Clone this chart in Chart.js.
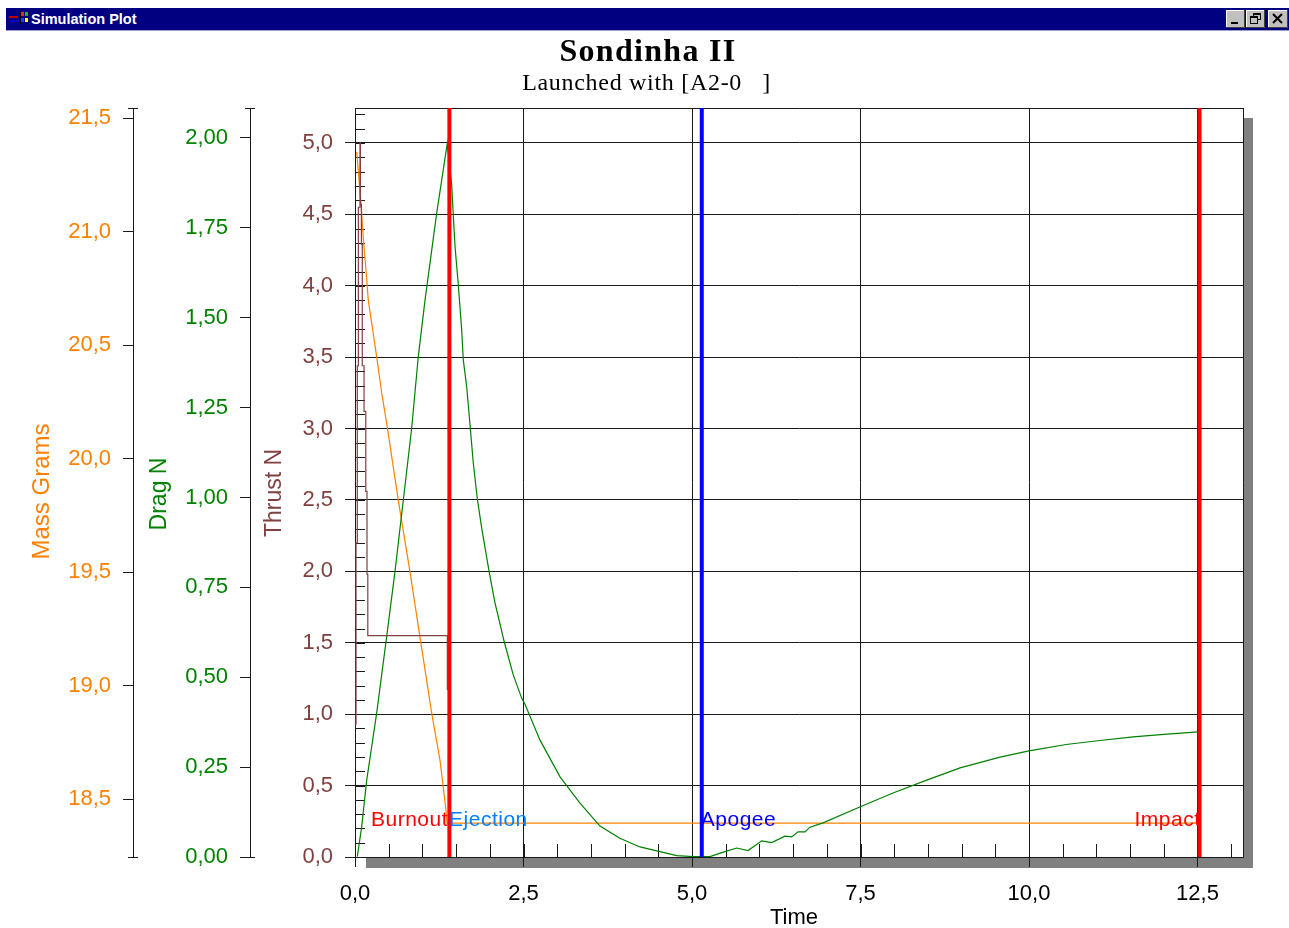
<!DOCTYPE html>
<html>
<head>
<meta charset="utf-8">
<title>Simulation Plot</title>
<style>
html,body{margin:0;padding:0;background:#fff;overflow:hidden}
#wrap{position:relative;width:1289px;height:928px}
canvas{position:absolute;left:0;top:0}
#bar{position:absolute;left:6px;top:8px;width:1283px;height:22px;background:#000080;border-bottom:1px solid #a0a0c8;color:#fff;font:bold 14.5px "Liberation Sans",sans-serif;line-height:22px}
#bar span{position:absolute;left:25px;top:0}
#bar svg{position:absolute}
</style>
<script src="https://cdn.jsdelivr.net/npm/chart.js@4/dist/chart.umd.min.js"></script>
</head>
<body>
<div id="wrap">
<canvas id="c" width="1289" height="928"></canvas>
<div id="bar">
<svg style="left:2px;top:3px" width="20" height="16"><rect x="1" y="5" width="9" height="2" fill="#c00000"/><rect x="2" y="9" width="9" height="2" fill="#0000c0"/><rect x="13" y="1" width="3" height="4" fill="#ff2020"/><rect x="17" y="1" width="3" height="4" fill="#10c010"/><rect x="13" y="7" width="3" height="4" fill="#2040ff"/><rect x="17" y="7" width="3" height="4" fill="#ffff00"/><rect x="12" y="0" width="1" height="13" fill="#000"/></svg>
<svg style="left:1220px;top:2px" width="19" height="18"><rect width="19" height="18" fill="#c0c0c0"/><path d="M0.5 17V0.5H18" stroke="#fff" fill="none"/><path d="M18.5 0V17.5H0" stroke="#404040" fill="none"/><rect x="5" y="12" width="7" height="2" fill="#000"/></svg>
<svg style="left:1240px;top:2px" width="19" height="18"><rect width="19" height="18" fill="#c0c0c0"/><path d="M0.5 17V0.5H18" stroke="#fff" fill="none"/><path d="M18.5 0V17.5H0" stroke="#404040" fill="none"/><rect x="7.5" y="3.5" width="7" height="6" fill="none" stroke="#000"/><rect x="4.5" y="6.5" width="7" height="7" fill="#c0c0c0" stroke="#000"/><rect x="4" y="6" width="8" height="2" fill="#000"/><rect x="7" y="3" width="8" height="2" fill="#000"/></svg>
<svg style="left:1262px;top:2px" width="20" height="18"><rect width="20" height="18" fill="#c0c0c0"/><path d="M0.5 17V0.5H19" stroke="#fff" fill="none"/><path d="M19.5 0V17.5H0" stroke="#404040" fill="none"/><path d="M5 4L14 13M14 4L5 13" stroke="#000" stroke-width="2"/></svg>
<span>Simulation Plot</span>
</div>
</div>
<script>
const titleText = 'Sondinha II';
const subtitleText = 'Launched with [A2-0   ]';
const timeTicks = [0, 2.5, 5, 7.5, 10, 12.5];
const thrustTicks = [0, 0.5, 1, 1.5, 2, 2.5, 3, 3.5, 4, 4.5, 5];
const dragTicks = [0, 0.25, 0.5, 0.75, 1, 1.25, 1.5, 1.75, 2];
const massTicks = [18.5, 19, 19.5, 20, 20.5, 21, 21.5];

const thrustTime = [0, 0.015, 0.015, 0.034, 0.034, 0.05, 0.05, 0.074, 0.074, 0.08, 0.08, 0.095, 0.095, 0.108, 0.108, 0.134, 0.134, 0.16, 0.16, 0.178, 0.178, 0.19, 0.19, 1.37, 1.37];
const thrustValues = [0.93, 0.93, 2.2, 2.2, 3.44, 3.44, 4.55, 4.55, 5.0, 5.0, 4.57, 4.57, 4.29, 4.29, 3.44, 3.44, 3.12, 3.12, 2.56, 2.56, 1.98, 1.98, 1.55, 1.55, 1.17];

const massTime = [0.025, 0.089, 0.123, 0.159, 0.197, 0.322, 0.396, 0.47, 0.642, 0.816, 0.964, 1.138, 1.261, 1.35, 1.365, 12.5];
const massValues = [21.352, 21.126, 20.97, 20.844, 20.698, 20.448, 20.289, 20.156, 19.817, 19.501, 19.214, 18.879, 18.672, 18.452, 18.394, 18.394];

const dragTime = [0.034, 0.099, 0.174, 0.322, 0.47, 0.593, 0.717, 0.841, 0.939, 1.039, 1.212, 1.369, 1.435, 1.458, 1.484, 1.533, 1.583, 1.607, 1.657, 1.696, 1.755, 1.815, 1.88, 1.988, 2.077, 2.215, 2.349, 2.473, 2.522, 2.745, 3.042, 3.338, 3.635, 3.93, 4.228, 4.525, 4.773, 5.015, 5.267, 5.441, 5.663, 5.831, 6.034, 6.182, 6.38, 6.479, 6.573, 6.677, 6.751, 6.944, 7.463, 7.982, 8.482, 8.976, 9.57, 10.0, 10.55, 11.053, 11.543, 12.047, 12.507];
const dragValues = [0.001, 0.084, 0.214, 0.401, 0.613, 0.794, 0.993, 1.193, 1.392, 1.549, 1.791, 1.985, 1.869, 1.786, 1.698, 1.591, 1.466, 1.382, 1.308, 1.225, 1.096, 0.996, 0.915, 0.796, 0.707, 0.598, 0.506, 0.442, 0.425, 0.325, 0.223, 0.15, 0.086, 0.052, 0.028, 0.015, 0.004, 0.001, 0.001, 0.012, 0.025, 0.018, 0.045, 0.04, 0.058, 0.056, 0.07, 0.07, 0.083, 0.095, 0.137, 0.178, 0.214, 0.248, 0.278, 0.295, 0.313, 0.324, 0.334, 0.342, 0.348];

const eventTimes = [1.40, 5.145, 12.53];
const eventColors = ['#ff0000', '#0000ff', '#ff0000'];
const markerNames = ['Burnout', 'Ejection', 'Apogee', 'Impact'];
const markerTimes = [1.38, 1.395, 5.13, 12.545];
const markerColors = ['#ff0000', '#0080ff', '#0000ff', '#ff0000'];
const markerAlign = ['right', 'left', 'left', 'right'];
const markerLevel = 0.26;

const MASS = '#ff8000', DRAG = '#008000', THRUST = '#804040', INK = '#1a1a1a';
const TICK_FONT = {family: '"Liberation Sans", Arial, sans-serif', size: 22};
const toPts = (xs, ys) => xs.map((x, i) => ({x, y: ys[i]}));
const fixed = n => v => Number(v).toFixed(n).replace('.', ',');
const setTicks = arr => s => { s.ticks = arr.map(value => ({value})); };

function yScale(opts) {
  return {
    type: 'linear', position: 'left', weight: opts.weight, min: opts.min, max: opts.max,
    afterBuildTicks: setTicks(opts.ticks),
    afterFit: s => { s.width = opts.width; },
    border: {display: true, color: INK, width: 1},
    grid: {drawOnChartArea: !!opts.grid, color: INK, tickColor: INK, tickLength: 10, lineWidth: 1},
    ticks: {color: opts.color, font: TICK_FONT, padding: opts.pad, callback: fixed(opts.dec), autoSkip: false, maxRotation: 0},
    title: {display: true, text: opts.title, color: opts.color,
      font: {family: '"Liberation Sans", Arial, sans-serif', size: opts.tsize, lineHeight: 1.2},
      padding: {top: opts.tpad, bottom: 0}}
  };
}

const titleShift = {yMass: [0, 9], yDrag: [0, 11.5], yThrust: [0, 10.5], x: [-5, 3.5]};

const furniture = {
  id: 'furniture',
  afterLayout(chart) {
    const ctx = chart.ctx;
    for (const id in titleShift) {
      const s = chart.scales[id];
      if (!s || s.$wrapped) continue;
      const orig = s.drawTitle.bind(s);
      s.drawTitle = (...a) => { ctx.save(); ctx.translate(titleShift[id][0], titleShift[id][1]); orig(...a); ctx.restore(); };
      s.$wrapped = true;
    }
    for (const b of chart.boxes) {
      const isMain = b.options && b.options.text === titleText;
      const isSub = b.options && b.options.text === subtitleText;
      if (isMain || isSub) {
        b.left = 0; b.right = isMain ? 1296 : 1293;
        if (!b.$wrapped) {
          const spacing = isMain ? '1.3px' : '0.7px';
          const orig = b.draw.bind(b);
          b.draw = (...a) => { ctx.save(); ctx.letterSpacing = spacing; ctx.translate(0, isMain ? 3 : 0); orig(...a); ctx.restore(); };
          b.$wrapped = true;
        }
      }
    }
  },
  beforeDraw(chart) {
    const {ctx, chartArea: a} = chart;
    ctx.save();
    ctx.fillStyle = '#fff';
    ctx.fillRect(0, 0, chart.width, chart.height);
    ctx.fillStyle = '#808080';
    ctx.fillRect(a.left + 11, a.top + 10, a.right - a.left - 1, a.bottom - a.top + 1);
    ctx.fillStyle = '#fff';
    ctx.fillRect(a.left, a.top, a.right - a.left, a.bottom - a.top);
    ctx.restore();
  },
  beforeDatasetsDraw(chart) {
    const {ctx, chartArea: a, scales} = chart;
    ctx.save();
    ctx.strokeStyle = INK;
    ctx.lineWidth = 1;
    ctx.beginPath();
    // plot frame
    ctx.moveTo(a.left, a.top + 0.5); ctx.lineTo(a.right + 0.5, a.top + 0.5);
    ctx.moveTo(a.right + 0.5, a.top); ctx.lineTo(a.right + 0.5, a.bottom);
    // minor thrust ticks, inside the frame
    const ty = scales.yThrust;
    for (let k = 1; k <= 52; k++) {
      const p = Math.round(ty.getPixelForValue(k / 10)) + 0.5;
      ctx.moveTo(a.left, p); ctx.lineTo(a.left + 10, p);
    }
    // minor time ticks, inside the frame
    const tx = scales.x;
    for (let k = 1; k <= 26; k++) {
      const p = Math.round(tx.getPixelForValue(k / 2)) + 0.5;
      ctx.moveTo(p, a.bottom); ctx.lineTo(p, a.bottom - 13);
    }
    // end caps on the two outer axes
    for (const id of ['yMass', 'yDrag']) {
      const s = scales[id];
      const x = Math.round(s.right);
      for (const y of [s.top, s.bottom]) {
        const py = Math.round(y) + 0.5;
        ctx.moveTo(x - 5, py); ctx.lineTo(x + 5, py);
      }
    }
    ctx.stroke();
    ctx.restore();
  },
  afterDatasetsDraw(chart) {
    const {ctx, scales} = chart;
    ctx.save();
    ctx.font = '21px "Liberation Sans", Arial, sans-serif';
    ctx.letterSpacing = '0.5px';
    ctx.textBaseline = 'middle';
    markerNames.forEach((name, i) => {
      ctx.fillStyle = markerColors[i];
      ctx.textAlign = markerAlign[i];
      ctx.fillText(name, scales.x.getPixelForValue(markerTimes[i]), scales.yThrust.getPixelForValue(markerLevel));
    });
    ctx.restore();
  }
};

const eventSets = eventTimes.map((t, i) => ({
  label: 'Event ' + (i + 1), type: 'scatter', showLine: true, yAxisID: 'yThrust', order: -1,
  data: [{x: t, y: 0}, {x: t, y: 5.245}], borderColor: eventColors[i], borderWidth: 4, pointRadius: 0
}));

new Chart(document.getElementById('c'), {
  type: 'scatter',
  data: {datasets: [
    ...eventSets,
    {label: 'Thrust', showLine: true, yAxisID: 'yThrust', data: toPts(thrustTime, thrustValues), borderColor: THRUST, borderWidth: 1.2, pointRadius: 0, tension: 0},
    {label: 'Drag', showLine: true, yAxisID: 'yDrag', data: toPts(dragTime, dragValues), borderColor: DRAG, borderWidth: 1.2, pointRadius: 0, tension: 0},
    {label: 'Mass', showLine: true, yAxisID: 'yMass', data: toPts(massTime, massValues), borderColor: MASS, borderWidth: 1.2, pointRadius: 0, tension: 0}
  ]},
  plugins: [furniture],
  options: {
    responsive: false, animation: false, devicePixelRatio: 1,
    layout: {padding: {left: 0, right: 46, top: 0, bottom: 0}},
    plugins: {
      legend: {display: false}, tooltip: {enabled: false},
      title: {display: true, text: titleText, color: '#000', align: 'center',
        font: {family: '"Liberation Serif", "Times New Roman", serif', size: 32, weight: 'bold', lineHeight: 1.2},
        padding: {top: 31, bottom: 0}},
      subtitle: {display: true, text: subtitleText, color: '#000', align: 'center',
        font: {family: '"Liberation Serif", "Times New Roman", serif', size: 24, weight: 'normal', lineHeight: 1.2},
        padding: {top: 0, bottom: 9.8}}
    },
    scales: {
      x: {
        type: 'linear', position: 'bottom', min: 0, max: 13.175,
        afterBuildTicks: setTicks(timeTicks),
        afterFit: s => { s.height = 71; },
        border: {display: true, color: INK, width: 1},
        grid: {color: INK, tickColor: INK, tickLength: 10, lineWidth: 1},
        ticks: {color: '#000', font: TICK_FONT, padding: 14, callback: fixed(1), autoSkip: false, maxRotation: 0},
        title: {display: true, text: 'Time', color: '#000',
          font: {family: '"Liberation Sans", Arial, sans-serif', size: 22, lineHeight: 1.2}, padding: 0}
      },
      yThrust: yScale({weight: 0, min: 0, max: 5.245, ticks: thrustTicks, width: 105, grid: true, color: THRUST, pad: 12, dec: 1, title: 'Thrust N', tsize: 23, tpad: 11}),
      yDrag: yScale({weight: 1, min: 0, max: 2.0834, ticks: dragTicks, width: 117, color: DRAG, pad: 12, dec: 2, title: 'Drag N', tsize: 23, tpad: 13}),
      yMass: yScale({weight: 2, min: 18.245, max: 21.5446, ticks: massTicks, width: 133, color: MASS, pad: 12, dec: 1, title: 'Mass Grams', tsize: 24, tpad: 28})
    }
  }
});
</script>
</body>
</html>
